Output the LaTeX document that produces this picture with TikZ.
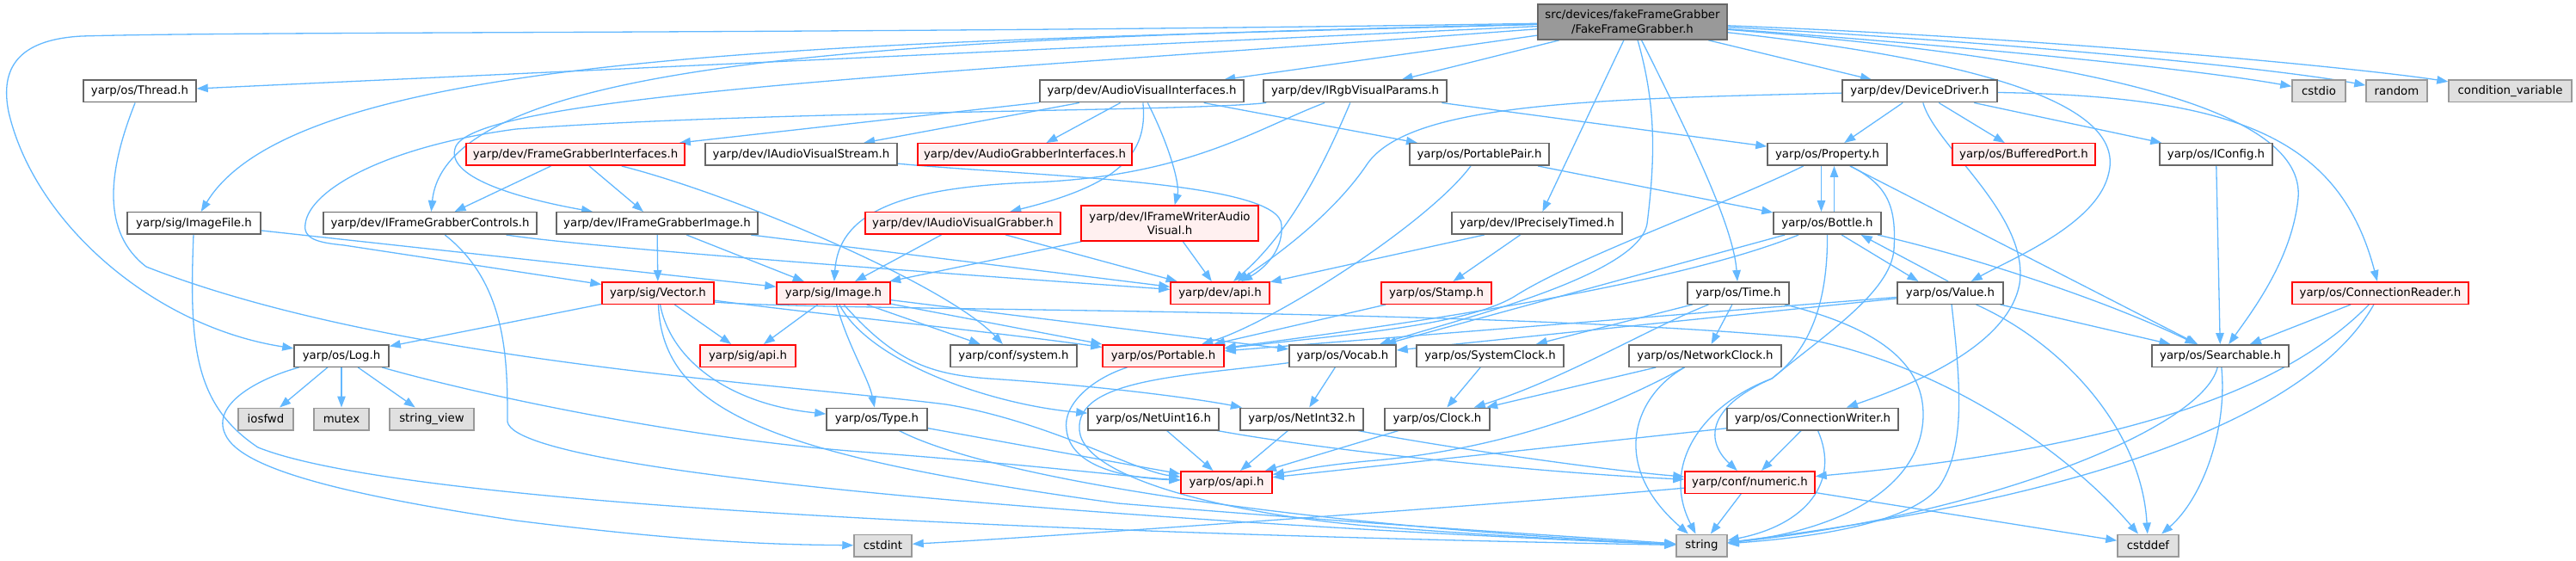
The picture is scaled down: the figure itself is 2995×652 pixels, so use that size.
\documentclass[tikz,border=0pt]{standalone}
\usepackage{fontspec}
\setmainfont{DejaVu Sans}
\usetikzlibrary{arrows.meta}
\definecolor{edgec}{HTML}{63B8FF}
\definecolor{nbord}{HTML}{666666}
\definecolor{rfill}{HTML}{FFF0F0}
\definecolor{sysfill}{HTML}{E0E0E0}
\definecolor{sysbord}{HTML}{999999}
\definecolor{rootfill}{HTML}{999999}
\pgfdeclarelayer{bg}
\pgfsetlayers{bg,main}
\begin{document}
\begin{tikzpicture}[x=1pt,y=-1pt,
  nb/.style={draw, line width=1.5pt, inner sep=0pt, minimum height=25.5pt, font=\fontsize{13.3}{16.5}\selectfont, align=center},
  pn/.style={nb, draw=nbord, fill=white},
  rn/.style={nb, draw=red, fill=rfill},
  sn/.style={nb, draw=sysbord, fill=sysfill},
  tn/.style={nb, draw=nbord, fill=rootfill},
  e/.style={draw=edgec, line width=1.3pt, -{Triangle[length=13pt,width=9.5pt]}}]
\useasboundingbox (0,0) rectangle (2995,652);
% row 0
\node[tn, minimum width=220pt, minimum height=41pt] (root) at (1898,25.5) {src/devices/fakeFrameGrabber\\/FakeFrameGrabber.h};
% row 1
\node[pn, minimum width=131pt] (thread) at (162.5,106) {yarp/os/Thread.h};
\node[pn, minimum width=237pt] (avi) at (1327.5,106) {yarp/dev/AudioVisualInterfaces.h};
\node[pn, minimum width=213pt] (rgb) at (1575.5,106) {yarp/dev/IRgbVisualParams.h};
\node[pn, minimum width=180pt] (devdrv) at (2232,106) {yarp/dev/DeviceDriver.h};
\node[sn, minimum width=62pt] (cstdio) at (2696,106) {cstdio};
\node[sn, minimum width=71pt] (random) at (2786.5,106) {random};
\node[sn, minimum width=143pt] (condvar) at (2918.5,106) {condition\_variable};
% row 2
\node[rn, minimum width=254pt] (fgi) at (669,179.5) {yarp/dev/FrameGrabberInterfaces.h};
\node[pn, minimum width=223pt] (avstream) at (931.5,179.5) {yarp/dev/IAudioVisualStream.h};
\node[rn, minimum width=249pt] (agi) at (1191.5,179.5) {yarp/dev/AudioGrabberInterfaces.h};
\node[pn, minimum width=162pt] (ppair) at (1720,179.5) {yarp/os/PortablePair.h};
\node[pn, minimum width=139pt] (property) at (2124.5,179.5) {yarp/os/Property.h};
\node[rn, minimum width=166pt] (bport) at (2353,179.5) {yarp/os/BufferedPort.h};
\node[pn, minimum width=131pt] (iconfig) at (2576.5,179.5) {yarp/os/IConfig.h};
% row 3
\node[pn, minimum width=155pt] (imgfile) at (225.5,259.5) {yarp/sig/ImageFile.h};
\node[pn, minimum width=248pt] (fgctrl) at (500,259.5) {yarp/dev/IFrameGrabberControls.h};
\node[pn, minimum width=234pt] (fgimg) at (764,259.5) {yarp/dev/IFrameGrabberImage.h};
\node[rn, minimum width=227pt] (avgrab) at (1119.5,259.5) {yarp/dev/IAudioVisualGrabber.h};
\node[rn, minimum width=206pt, minimum height=41pt] (fwav) at (1360,259.5) {yarp/dev/IFrameWriterAudio\\Visual.h};
\node[pn, minimum width=198pt] (ptimed) at (1787,259.5) {yarp/dev/IPreciselyTimed.h};
\node[pn, minimum width=125pt] (bottle) at (2124.5,259.5) {yarp/os/Bottle.h};
% row 4
\node[rn, minimum width=130pt] (vector) at (765,340.5) {yarp/sig/Vector.h};
\node[rn, minimum width=132pt] (image) at (969,340.5) {yarp/sig/Image.h};
\node[rn, minimum width=115pt] (devapi) at (1418.5,340.5) {yarp/dev/api.h};
\node[rn, minimum width=128pt] (stamp) at (1670,340.5) {yarp/os/Stamp.h};
\node[pn, minimum width=118pt] (time) at (2021,340.5) {yarp/os/Time.h};
\node[pn, minimum width=123pt] (value) at (2267.5,340.5) {yarp/os/Value.h};
\node[rn, minimum width=205pt] (connreader) at (2767.5,340.5) {yarp/os/ConnectionReader.h};
% row 5
\node[pn, minimum width=110pt] (log) at (397,413.5) {yarp/os/Log.h};
\node[rn, minimum width=111pt] (sigapi) at (869.5,413.5) {yarp/sig/api.h};
\node[pn, minimum width=147pt] (confsys) at (1178.5,413.5) {yarp/conf/system.h};
\node[rn, minimum width=141pt] (portable) at (1352.5,413.5) {yarp/os/Portable.h};
\node[pn, minimum width=124pt] (vocab) at (1561,413.5) {yarp/os/Vocab.h};
\node[pn, minimum width=171pt] (sysclock) at (1732.5,413.5) {yarp/os/SystemClock.h};
\node[pn, minimum width=177pt] (netclock) at (1982.5,413.5) {yarp/os/NetworkClock.h};
\node[pn, minimum width=159pt] (searchable) at (2581.5,413.5) {yarp/os/Searchable.h};
% row 6
\node[sn, minimum width=64pt] (iosfwd) at (309,487) {iosfwd};
\node[sn, minimum width=64pt] (mutex) at (397,487) {mutex};
\node[sn, minimum width=98pt] (strview) at (502,487) {string\_view};
\node[pn, minimum width=117pt] (type) at (1019.5,487) {yarp/os/Type.h};
\node[pn, minimum width=152pt] (netuint16) at (1341,487) {yarp/os/NetUint16.h};
\node[pn, minimum width=143pt] (netint32) at (1513.5,487) {yarp/os/NetInt32.h};
\node[pn, minimum width=122pt] (clock) at (1671,487) {yarp/os/Clock.h};
\node[pn, minimum width=199pt] (connwriter) at (2107.5,487) {yarp/os/ConnectionWriter.h};
% row 7
\node[rn, minimum width=106pt] (osapi) at (1426,560.5) {yarp/os/api.h};
\node[rn, minimum width=151pt] (numeric) at (2034.5,560.5) {yarp/conf/numeric.h};
% row 8
\node[sn, minimum width=67pt] (cstdint) at (1026.5,634) {cstdint};
\node[sn, minimum width=59pt] (string) at (1978.5,634) {string};
\node[sn, minimum width=71pt] (cstddef) at (2497.5,634) {cstddef};

\begin{pgfonlayer}{bg}
% root
\draw[e] (root) -- (thread);
\draw[e] (root) .. controls (1000,40) and (300,36) .. (95,42) .. controls (20,46) and (0,80) .. (10,130) .. controls (40,260) and (180,380) .. (log);
\draw[e] (root) .. controls (1000,50) and (350,55) .. (imgfile);
\draw[e] (root) .. controls (1100,45) and (520,60) .. (fgctrl);
\draw[e] (root) .. controls (1100,85) and (560,110) .. (530,170) .. controls (515,205) and (600,230) .. (fgimg);
\draw[e] (root) -- (avi);
\draw[e] (root) -- (rgb);
\draw[e] (root) -- (ptimed);
\draw[e] (root) .. controls (1925,120) and (1925,180) .. (1915,260) .. controls (1905,320) and (1700,370) .. (vocab);
\draw[e] (root) .. controls (1960,150) and (2015,260) .. (time);
\draw[e] (root) -- (devdrv);
\draw[e] (root) .. controls (2300,55) and (2550,80) .. (cstdio);
\draw[e] (root) .. controls (2350,50) and (2650,80) .. (random);
\draw[e] (root) .. controls (2400,45) and (2750,80) .. (condvar);
\draw[e] (root) .. controls (2300,70) and (2470,120) .. (2452,200) .. controls (2440,260) and (2340,300) .. (value);
\draw[e] (root) .. controls (2450,70) and (2680,130) .. (2672,230) .. controls (2665,300) and (2620,360) .. (searchable);
% avi
\draw[e] (avi) -- (fgi);
\draw[e] (avi) -- (avstream);
\draw[e] (avi) -- (agi);
\draw[e] (avi) .. controls (1335,180) and (1300,215) .. (avgrab);
\draw[e] (avi) .. controls (1360,170) and (1372,215) .. (fwav);
\draw[e] (avi) -- (ppair);
% rgb
\draw[e] ([xshift=4pt]rgb.south west) .. controls (1380,130) and (900,128) .. (600,150) .. controls (450,170) and (360,220) .. (355,260) .. controls (352,278) and (370,282) .. (400,285) -- (vector);
\draw[e] (rgb) .. controls (1460,150) and (1380,205) .. (1200,212) .. controls (1040,218) and (975,250) .. (image);
\draw[e] (rgb) .. controls (1540,190) and (1500,270) .. (devapi);
\draw[e] (rgb) -- (property);
% devdrv
\draw[e] (devdrv) .. controls (1850,115) and (1640,120) .. (1590,190) .. controls (1550,250) and (1480,300) .. (devapi);
\draw[e] (devdrv) -- (property);
\draw[e] (devdrv) -- (bport);
\draw[e] (devdrv) -- (iconfig);
\draw[e] (devdrv) .. controls (2600,112) and (2720,160) .. (connreader);
\draw[e] (devdrv) .. controls (2250,170) and (2360,250) .. (2348,330) .. controls (2335,400) and (2230,445) .. (connwriter);
% fgi
\draw[e] (fgi) -- (fgctrl);
\draw[e] (fgi) -- (fgimg);
\draw[e] (fgi) .. controls (850,225) and (1100,330) .. (confsys);
% avstream
\draw[e] (avstream) .. controls (1200,205) and (1490,210) .. (1490,262) .. controls (1492,295) and (1465,315) .. (devapi);
% ppair
\draw[e] (ppair) -- (bottle);
\draw[e] (ppair) .. controls (1660,260) and (1480,375) .. (portable);
% property
\draw[e] ([xshift=-7pt]property.south) -- ([xshift=-7pt]bottle.north);
\draw[e] ([xshift=8pt]bottle.north) -- ([xshift=8pt]property.south);
\draw[e] (property) -- (searchable);
\draw[e] (property) .. controls (2000,240) and (1830,300) .. (1760,345) .. controls (1700,380) and (1550,390) .. (portable);
\draw[e] (property) .. controls (2195,215) and (2205,240) .. (2202,290) .. controls (2198,340) and (2120,390) .. (2060,440) .. controls (1980,475) and (1985,515) .. (numeric);
\draw[e] (iconfig) -- (searchable);
% row3
\draw[e] (imgfile) -- (image);
\draw[e] (imgfile) .. controls (220,400) and (225,470) .. (300,520) .. controls (500,600) and (1500,625) .. (string);
\draw[e] (fgctrl) .. controls (700,290) and (1200,325) .. (devapi);
\draw[e] (fgctrl) .. controls (590,330) and (590,420) .. (590,490) .. controls (600,560) and (1500,615) .. (string);
\draw[e] (fgimg) -- (vector);
\draw[e] (fgimg) -- (image);
\draw[e] (fgimg) -- (devapi);
\draw[e] (avgrab) -- (image);
\draw[e] (avgrab) -- (devapi);
\draw[e] (fwav) -- (image);
\draw[e] (fwav) -- (devapi);
\draw[e] (ptimed) -- (stamp);
\draw[e] (ptimed) -- (devapi);
% bottle
\draw[e] (bottle.-39) -- (value.160);
\draw[e] (value.100) -- (bottle.-19);
\draw[e] (bottle) .. controls (1950,330) and (1650,375) .. (portable);
\draw[e] (bottle) -- (vocab);
\draw[e] (bottle) .. controls (2300,300) and (2450,350) .. (searchable);
\draw[e] (bottle) .. controls (2125,360) and (2100,410) .. (2060,440) .. controls (1980,470) and (1930,540) .. (string);
% value
\draw[e] (value) -- (searchable);
\draw[e] (value) -- (vocab);
\draw[e] (value) -- (portable);
\draw[e] (value) .. controls (2400,400) and (2490,500) .. (cstddef);
\draw[e] (value) .. controls (2280,450) and (2285,520) .. (2255,565) .. controls (2220,610) and (2100,625) .. (string);
% connreader
\draw[e] (connreader) -- (searchable);
\draw[e] (connreader) .. controls (2660,450) and (2480,520) .. (numeric);
\draw[e] (connreader) .. controls (2700,460) and (2500,570) .. (string);
% searchable
\draw[e] (searchable) .. controls (2560,500) and (2300,600) .. (string);
\draw[e] (searchable) .. controls (2590,500) and (2560,580) .. (cstddef);
% log
\draw[e] (log) -- (iosfwd);
\draw[e] (log) -- (mutex);
\draw[e] (log) -- (strview);
\draw[e] (log) .. controls (560,460) and (800,510) .. (1000,525) .. controls (1200,540) and (1320,555) .. (osapi);
\draw[e] (log) .. controls (300,440) and (245,470) .. (262,505) .. controls (280,545) and (400,575) .. (600,605) .. controls (800,630) and (900,633) .. (cstdint);
% vector
\draw[e] (vector) -- (log);
\draw[e] (vector) -- (sigapi);
\draw[e] (vector) .. controls (950,365) and (1150,385) .. (portable);
\draw[e] (vector) .. controls (780,420) and (850,470) .. (type);
\draw[e] (vector) .. controls (770,480) and (900,530) .. (1300,585) .. controls (1600,610) and (1850,625) .. (string);
\draw[e] ([yshift=-10.5pt]vector.east) .. controls (950,362) and (1700,357) .. (2090,392) .. controls (2250,420) and (2400,520) .. (cstddef);
% image
\draw[e] (image) -- (sigapi);
\draw[e] (image) -- (confsys);
\draw[e] (image) -- (portable);
\draw[e] (image) .. controls (985,400) and (1010,440) .. (type);
\draw[e] (image) .. controls (1010,420) and (1150,470) .. (netuint16);
\draw[e] (image) .. controls (1040,420) and (1080,435) .. (1150,440) .. controls (1300,450) and (1400,465) .. (netint32);
\draw[e] (image) -- (vocab);
% stamp
\draw[e] (stamp) -- (portable);
% time
\draw[e] (time) -- (sysclock);
\draw[e] (time) -- (netclock);
\draw[e] (time) .. controls (1920,380) and (1820,440) .. (clock);
\draw[e] (time) .. controls (2180,380) and (2235,420) .. (2236,480) .. controls (2237,560) and (2150,615) .. (string);
% lower
\draw[e] (vocab) -- (netint32);
\draw[e] (vocab) .. controls (1380,437) and (1250,440) .. (1255,500) .. controls (1260,560) and (1450,600) .. (1600,612) .. controls (1750,624) and (1880,630) .. (string);
\draw[e] (sysclock) -- (clock);
\draw[e] (netclock) -- (clock);
\draw[e] (netclock) .. controls (1880,470) and (1760,520) .. (1600,535) .. controls (1540,540) and (1500,548) .. (osapi);
\draw[e] (netclock) .. controls (1900,460) and (1870,540) .. (string);
\draw[e] (portable) .. controls (1270,440) and (1235,470) .. (1240,500) .. controls (1245,540) and (1300,555) .. (osapi);
\draw[e] (type) -- (osapi);
\draw[e] (type) .. controls (1150,555) and (1500,610) .. (string);
\draw[e] (netuint16) -- (osapi);
\draw[e] (netuint16) .. controls (1550,525) and (1800,550) .. (numeric);
\draw[e] (netint32) -- (osapi);
\draw[e] (netint32) .. controls (1650,515) and (1850,545) .. (numeric);
\draw[e] (clock) -- (osapi);
\draw[e] (connwriter) -- (osapi);
\draw[e] (connwriter) -- (numeric);
\draw[e] (connwriter) .. controls (2140,560) and (2100,610) .. (string);
\draw[e] (numeric) -- (string);
\draw[e] (numeric) .. controls (1700,590) and (1200,625) .. (cstdint);
\draw[e] (numeric) -- (cstddef);
\draw[e] (thread) .. controls (125,200) and (118,270) .. (170,310) .. controls (450,420) and (900,445) .. (1100,470) .. controls (1220,490) and (1320,548) .. (osapi);
\end{pgfonlayer}
\end{tikzpicture}
\end{document}
